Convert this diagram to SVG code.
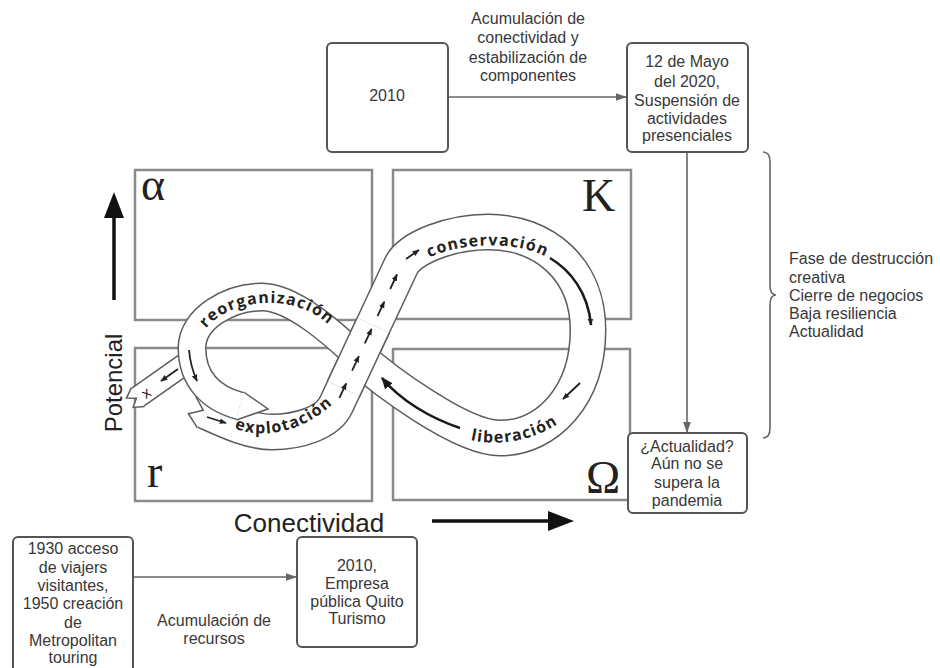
<svg xmlns="http://www.w3.org/2000/svg" width="940" height="668" viewBox="0 0 940 668">
<defs>
<style>
.q{fill:none;stroke:#8a8a8a;stroke-width:2.5}
.nb{fill:#fff;stroke:#555;stroke-width:2}
.tx{font-family:"Liberation Sans",Arial,sans-serif;font-size:16px;fill:#383838;text-anchor:middle}
.tl{font-family:"Liberation Sans",Arial,sans-serif;font-size:16px;fill:#383838;text-anchor:start}
.gk{font-family:"Liberation Serif","Times New Roman",serif;font-size:46px;fill:#222}
.ax{font-family:"Liberation Sans",Arial,sans-serif;fill:#222;text-anchor:middle}
.ed{fill:none;stroke:#5c5c5c;stroke-linecap:butt;stroke-linejoin:round}
.wh{fill:none;stroke:#fff;stroke-linecap:butt;stroke-linejoin:round}
.bl{font-family:"Open Sans","Noto Sans",sans-serif;font-weight:700;font-size:16px;fill:#222;letter-spacing:1.2px}
.ba{fill:none;stroke:#222;stroke-width:1.8}
.bb{fill:none;stroke:#1a1a1a;stroke-width:2.6}
.cn{fill:none;stroke:#666;stroke-width:1.6}
.zz{fill:#fff;stroke:none}
.zl{fill:none;stroke:#5c5c5c;stroke-width:1.5;stroke-linejoin:miter}
.xx{font-family:"Open Sans","Noto Sans",sans-serif;font-size:15px;fill:#111;text-anchor:middle}
</style>
<marker id="ah" markerUnits="userSpaceOnUse" viewBox="0 0 10 10" refX="10" refY="5" markerWidth="11" markerHeight="11" orient="auto"><path d="M0,1.5 L10,5 L0,8.5 z" fill="#666"/></marker>
<marker id="bh" markerUnits="userSpaceOnUse" viewBox="0 0 10 10" refX="9" refY="5" markerWidth="7" markerHeight="7" orient="auto"><path d="M0,1 L10,5 L0,9 z" fill="#222"/></marker>
<marker id="bh2" markerUnits="userSpaceOnUse" viewBox="0 0 10 10" refX="9" refY="5" markerWidth="12" markerHeight="12" orient="auto"><path d="M0,1 L10,5 L0,9 z" fill="#1a1a1a"/></marker>
<path id="tpR" d="M 198,342 C 215,297 300,287 335,332"/>
<path id="tpC" d="M 415,268 C 440,240 535,236 560,268"/>
<path id="tpE" d="M 215,417 C 245,442 300,442 345,392"/>
<path id="tpL" d="M 440,425 C 470,452 540,450 580,405"/>
</defs>
<rect width="940" height="668" fill="#fff"/>

<g id="quadrants">
<rect class="q" x="135" y="170" width="237" height="150"/>
<rect class="q" x="393" y="170" width="238" height="149"/>
<rect class="q" x="135" y="348" width="237" height="153"/>
<rect class="q" x="393" y="349" width="237" height="151"/>
<text class="gk" x="141" y="200">α</text>
<text class="gk" x="582" y="211">K</text>
<text class="gk" x="147" y="487">r</text>
<text class="gk" x="586" y="493">Ω</text>
</g>

<g id="axes">
<line x1="114" y1="300" x2="114" y2="215" stroke="#111" stroke-width="3.5"/>
<path d="M104,218 L114,192 L124,218 z" fill="#111"/>
<text class="ax" font-size="24" transform="translate(122,383) rotate(-90)">Potencial</text>
<text class="ax" font-size="26" x="309" y="532">Conectividad</text>
<line x1="432" y1="521" x2="550" y2="521" stroke="#111" stroke-width="3.5"/>
<path d="M548,511 L574,521 L548,531 z" fill="#111"/>
</g>

<g id="adaptive-cycle">
<path class="ed" stroke-width="23" d="M 192,359 L 138,397"/>
<path class="wh" stroke-width="20" d="M 192,359 L 138,397"/>
<polygon class="zz" points="131.4,387.6 126.5,398.1 136.4,398.2 133.1,407.5 144.6,406.4 138,397"/>
<polyline class="zl" points="131.4,387.6 126.5,398.1 136.4,398.2 133.1,407.5 144.6,406.4"/>
<path class="ed" stroke-width="37" d="M 205,411 C 225,420 250,432 272,432 C 298,432 327.5,423.1 336,405 L 401,266 C 410,247 452,232 488,232 C 545,232 588,270 588,330 C 588,395 548,438 500,438 C 460,438 380.5,377.3 358.4,357"/>
<path class="wh" stroke-width="34" d="M 205,411 C 225,420 250,432 272,432 C 298,432 327.5,423.1 336,405 L 401,266 C 410,247 452,232 488,232 C 545,232 588,270 588,330 C 588,395 548,438 500,438 C 460,438 380.5,377.3 358.4,357"/>
<polygon class="zz" points="212.6,394.1 196,396.8 203.2,410.2 188.4,413.7 197.4,427.9 205,411"/>
<polyline class="zl" points="212.6,394.1 196,396.8 203.2,410.2 188.4,413.7 197.4,427.9"/>
<path class="ed" stroke-width="29" d="M 358.4,357 C 340,340.1 295,297 262,297 C 230,297 192,318 192,348 C 192,378 210,398 240,406"/>
<path class="wh" stroke-width="26" d="M 358.4,357 C 340,340.1 295,297 262,297 C 230,297 192,318 192,348 C 192,378 210,398 240,406"/>
<polygon class="zz" points="243.7,392 268,409 236.3,420 240,406"/>
<polyline class="zl" points="243.7,392 268,409 236.3,420"/>
<path class="ed" stroke-width="37" d="M 343.6,388.7 L 373.2,325.3"/>
<path class="wh" stroke-width="34" d="M 343.6,388.7 L 373.2,325.3"/>
<path class="ba" d="M 339.4,397.8 L 346.2,383.3" marker-end="url(#bh)"/>
<path class="ba" d="M 352.1,370.6 L 358.9,356.1" marker-end="url(#bh)"/>
<path class="ba" d="M 364.8,343.4 L 371.6,328.9" marker-end="url(#bh)"/>
<path class="ba" d="M 377.5,316.2 L 384.3,301.7" marker-end="url(#bh)"/>
<path class="ba" d="M 390.2,289 L 397,274.5" marker-end="url(#bh)"/>
<path class="ba" d="M 406,259 L 419,250" marker-end="url(#bh)"/>
<path class="bb" d="M 550,258 C 570,270 588,292 591,325" marker-end="url(#bh)"/>
<path class="ba" d="M 580,383 L 563,399" marker-end="url(#bh)"/>
<path class="bb" d="M 460,428 C 430,418 400,400 382,378" marker-end="url(#bh2)"/>
<path class="ba" d="M 189,350 C 190,362 193,372 197,381" marker-end="url(#bh)"/>
<path class="ba" d="M 207,417 L 226,423" marker-end="url(#bh)"/>
<path class="ba" d="M 178,369 L 161,381" marker-end="url(#bh)"/>
<text class="bl"><textPath href="#tpR" startOffset="52%" text-anchor="middle">reorganización</textPath></text>
<text class="bl"><textPath href="#tpC" startOffset="50%" text-anchor="middle">conservación</textPath></text>
<text class="bl"><textPath href="#tpE" startOffset="52%" text-anchor="middle">explotación</textPath></text>
<text class="bl"><textPath href="#tpL" startOffset="52%" text-anchor="middle">liberación</textPath></text>
<text class="xx" transform="translate(149,397) rotate(-35)">x</text>
</g>

<g id="connectors">
<line class="cn" x1="448" y1="97" x2="627" y2="97" marker-end="url(#ah)"/>
<line class="cn" x1="687" y1="152" x2="687" y2="433" marker-end="url(#ah)"/>
<line class="cn" x1="133" y1="577" x2="297" y2="577" marker-end="url(#ah)"/>
<path class="cn" d="M 763,152 Q 770,152 770,162 L 770,285 Q 770,295 776,295 Q 770,295 770,305 L 770,428 Q 770,438 763,438"/>
</g>

<g id="label-top">
<text class="tx" x="528" y="24">Acumulación de</text>
<text class="tx" x="528" y="43">conectividad y</text>
<text class="tx" x="528" y="63">estabilización de</text>
<text class="tx" x="528" y="81">componentes</text>
</g>

<g id="node-2010">
<rect class="nb" x="327" y="43" width="121" height="109" rx="5"/>
<text class="tx" x="387" y="101">2010</text>
</g>

<g id="node-mayo-2020">
<rect class="nb" x="627" y="43" width="121" height="109" rx="5"/>
<text class="tx" x="687" y="67">12 de Mayo</text>
<text class="tx" x="687" y="87">del 2020,</text>
<text class="tx" x="687" y="106">Suspensión de</text>
<text class="tx" x="687" y="124">actividades</text>
<text class="tx" x="687" y="141">presenciales</text>
</g>

<g id="node-actualidad">
<rect class="nb" x="628" y="433" width="119" height="80" rx="5"/>
<text class="tx" x="687" y="452">¿Actualidad?</text>
<text class="tx" x="687" y="469">Aún no se</text>
<text class="tx" x="687" y="488">supera la</text>
<text class="tx" x="687" y="506">pandemia</text>
</g>

<g id="label-fase">
<text class="tl" x="789" y="264">Fase de destrucción</text>
<text class="tl" x="789" y="283">creativa</text>
<text class="tl" x="789" y="301">Cierre de negocios</text>
<text class="tl" x="789" y="319">Baja resiliencia</text>
<text class="tl" x="789" y="337">Actualidad</text>
</g>

<g id="node-1930">
<rect class="nb" x="13" y="537" width="120" height="145" rx="5"/>
<text class="tx" x="73" y="554">1930 acceso</text>
<text class="tx" x="73" y="573">de viajers</text>
<text class="tx" x="73" y="591">visitantes,</text>
<text class="tx" x="73" y="609">1950 creación</text>
<text class="tx" x="73" y="628">de</text>
<text class="tx" x="73" y="646">Metropolitan</text>
<text class="tx" x="73" y="663">touring</text>
</g>

<g id="label-recursos">
<text class="tx" x="214" y="626">Acumulación de</text>
<text class="tx" x="214" y="644">recursos</text>
</g>

<g id="node-quito-turismo">
<rect class="nb" x="297" y="537" width="120" height="110" rx="5"/>
<text class="tx" x="357" y="571">2010,</text>
<text class="tx" x="357" y="589">Empresa</text>
<text class="tx" x="357" y="607">pública Quito</text>
<text class="tx" x="357" y="624">Turismo</text>
</g>
</svg>
